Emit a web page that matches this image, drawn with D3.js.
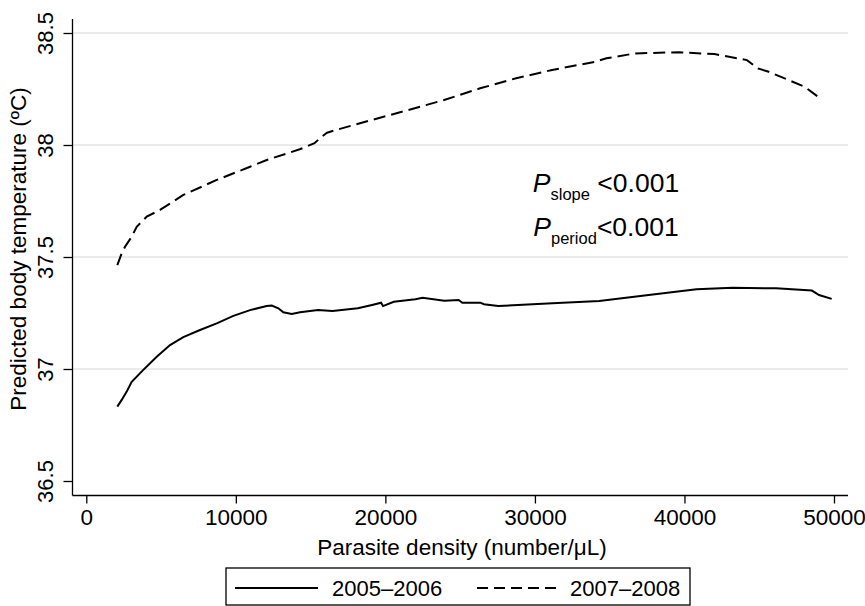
<!DOCTYPE html>
<html>
<head>
<meta charset="utf-8">
<script src="https://cdn.jsdelivr.net/npm/d3@7"></script>
<style>
  body { margin: 0; background: #fff; }
  text { font-family: 'Liberation Sans', Arial, Helvetica, sans-serif; fill: #000; }
</style>
</head>
<body>
<div id="chart"></div>
<script>
// 2005-2006 (solid)
let density0506 = [2074, 2368, 2702, 3037, 3813, 4709, 5599, 6488, 7605, 8722, 9833, 10950, 12067, 12401, 12843, 13177, 13739, 14294, 15498, 16462, 18154, 19110, 19712, 19839, 20562, 22007, 22488, 23933, 24903, 25144, 26348, 26589, 27552, 31171, 34301, 37191, 40809, 43217, 46114, 48522, 49003, 49846]
let temp0506 = [36.832, 36.862, 36.899, 36.943, 36.996, 37.055, 37.107, 37.142, 37.174, 37.204, 37.237, 37.263, 37.281, 37.283, 37.271, 37.253, 37.246, 37.253, 37.263, 37.259, 37.271, 37.286, 37.296, 37.281, 37.300, 37.311, 37.318, 37.305, 37.308, 37.296, 37.296, 37.289, 37.281, 37.293, 37.304, 37.327, 37.356, 37.363, 37.360, 37.350, 37.330, 37.313]

// 2007-2008 (dashed)
let density0708 = [2074, 2368, 2589, 3037, 3371, 4040, 4930, 6488, 8722, 10950, 12067, 14321, 15258, 15739, 16100, 16702, 19110, 21518, 23926, 26334, 28742, 31151, 34060, 34783, 36702, 39605, 42013, 44181, 44910, 45632, 48040, 49003]
let temp0708 = [37.464, 37.517, 37.546, 37.591, 37.635, 37.680, 37.710, 37.777, 37.844, 37.903, 37.933, 37.982, 38.008, 38.037, 38.055, 38.067, 38.112, 38.156, 38.201, 38.253, 38.298, 38.335, 38.372, 38.387, 38.409, 38.414, 38.406, 38.379, 38.342, 38.327, 38.260, 38.212]

let xTicks = [0, 10000, 20000, 30000, 40000, 50000]
let yTicks = [36.5, 37, 37.5, 38, 38.5]
let gridTicks = [37, 37.5, 38, 38.5]
let seriesNames = ['2005\u20132006', '2007\u20132008']

let width = 865
let height = 606
let plotLeft = 72.5, plotRight = 848, plotTop = 19, plotBottom = 495.5

let svg = d3.select('#chart')
  .append('svg')
  .attr('width', width)
  .attr('height', height)

let x = d3.scaleLinear().domain([0, 50000]).range([86.3, 834])
let y = d3.scaleLinear().domain([36.5, 38.5]).range([481, 33])

svg.selectAll('.grid')
  .data(gridTicks)
  .enter()
  .append('line')
  .attr('x1', plotLeft)
  .attr('x2', plotRight)
  .attr('y1', d => y(d))
  .attr('y2', d => y(d))
  .style('stroke', '#e5e5e5')
  .style('stroke-width', 1.6)

let xAxis = svg.append('g')
  .attr('transform', `translate(0,${plotBottom})`)
  .call(d3.axisBottom(x).tickValues(xTicks).tickSize(8).tickSizeOuter(0).tickFormat(d3.format('d')))
xAxis.select('.domain').remove()
xAxis.selectAll('line').style('stroke', '#000').style('stroke-width', 1.3)
xAxis.selectAll('text')
  .attr('dy', 0)
  .attr('y', 29.5)
  .style('font-size', '22.5px')
  .style('font-family', "'Liberation Sans', Arial, sans-serif")

let yAxis = svg.append('g')
  .attr('transform', `translate(${plotLeft},0)`)
  .call(d3.axisLeft(y).tickValues(yTicks).tickSize(9).tickSizeOuter(0).tickFormat(d => d))
yAxis.select('.domain').remove()
yAxis.selectAll('line').style('stroke', '#000').style('stroke-width', 1.3)
yAxis.selectAll('text')
  .attr('x', 0)
  .attr('y', 0)
  .attr('dy', 0)
  .attr('transform', 'translate(-19.5,0) rotate(-90)')
  .style('text-anchor', 'middle')
  .style('font-size', '22px')
  .style('font-family', "'Liberation Sans', Arial, sans-serif")

svg.append('line')
  .attr('x1', plotLeft).attr('x2', plotRight)
  .attr('y1', plotBottom).attr('y2', plotBottom)
  .style('stroke', '#000').style('stroke-width', 1.3)
svg.append('line')
  .attr('x1', plotLeft).attr('x2', plotLeft)
  .attr('y1', plotTop).attr('y2', plotBottom)
  .style('stroke', '#000').style('stroke-width', 1.3)

let line = d3.line()
  .x(d => x(d[0]))
  .y(d => y(d[1]))

let solid = d3.zip(density0506, temp0506)
let dashed = d3.zip(density0708, temp0708)

svg.append('path')
  .datum(solid)
  .attr('d', line)
  .style('fill', 'none')
  .style('stroke', '#000')
  .style('stroke-width', 2)

svg.append('path')
  .datum(dashed)
  .attr('d', line)
  .style('fill', 'none')
  .style('stroke', '#000')
  .style('stroke-width', 2)
  .style('stroke-dasharray', '12,6')

// axis titles
svg.append('text')
  .attr('x', 462)
  .attr('y', 555)
  .style('text-anchor', 'middle')
  .style('font-size', '22.5px')
  .text('Parasite density (number/\u03bcL)')

svg.append('text')
  .attr('transform', 'translate(26,249) rotate(-90)')
  .style('text-anchor', 'middle')
  .style('font-size', '22.5px')
  .text('Predicted body temperature (\u00baC)')

// P values
let pRows = [['slope', ' <0.001', 192], ['period', '<0.001', 236]]
pRows.forEach(function (r) {
  let t = svg.append('text')
    .attr('x', 606)
    .attr('y', r[2])
    .style('text-anchor', 'middle')
    .style('font-size', '26.5px')
  t.append('tspan').style('font-style', 'italic').text('P')
  t.append('tspan').attr('dy', 8).style('font-size', '16.5px').text(r[0])
  t.append('tspan').attr('dy', -8).text(r[1])
})

// legend
let legend = svg.append('g')
svg.append('rect')
  .attr('x', 226)
  .attr('y', 568)
  .attr('width', 464)
  .attr('height', 37)
  .style('fill', 'none')
  .style('stroke', '#000')
  .style('stroke-width', 1.3)

let legendItems = legend.selectAll('g')
  .data(seriesNames)
  .enter()
  .append('g')
  .attr('transform', (d, i) => `translate(${235 + i * 242},588)`)

legendItems.append('line')
  .attr('x1', 0)
  .attr('x2', 83)
  .attr('y1', 0)
  .attr('y2', 0)
  .style('stroke', '#000')
  .style('stroke-width', 2)
  .style('stroke-dasharray', (d, i) => i === 1 ? '11,6' : null)

legendItems.append('text')
  .attr('x', (d, i) => i === 0 ? 97 : 93)
  .attr('y', 8)
  .style('font-size', '22px')
  .text(d => d)
</script>
</body>
</html>
